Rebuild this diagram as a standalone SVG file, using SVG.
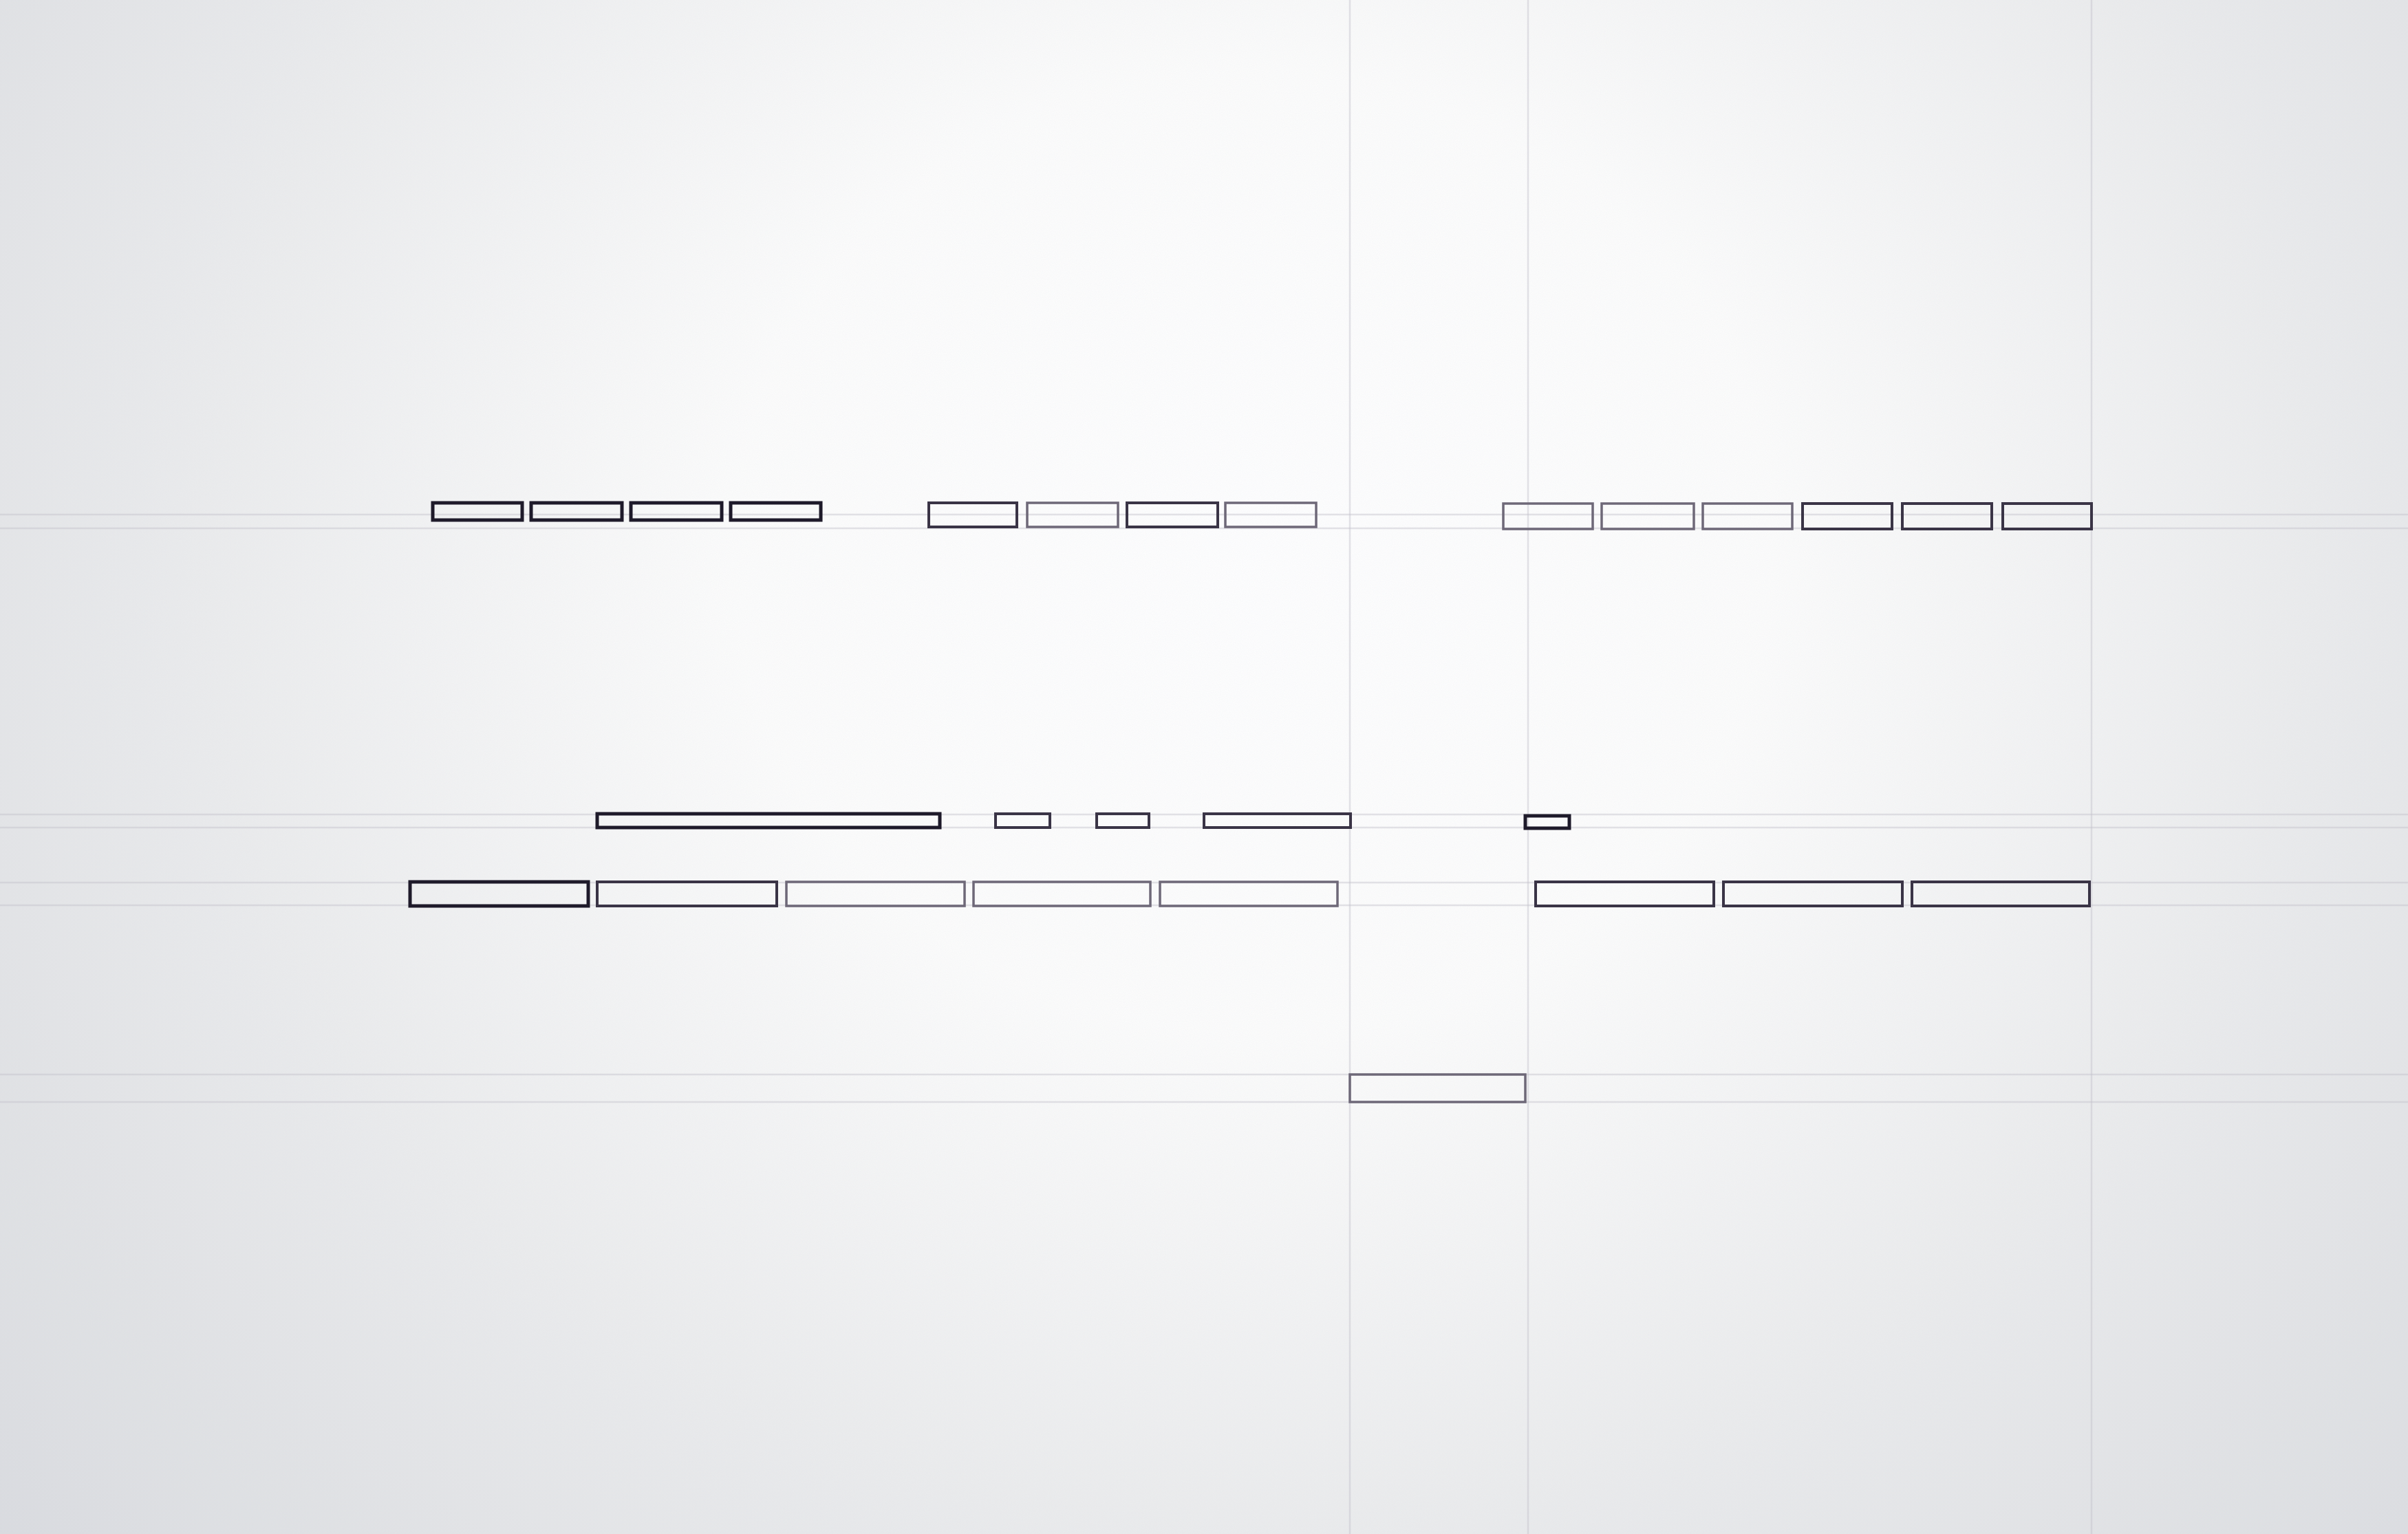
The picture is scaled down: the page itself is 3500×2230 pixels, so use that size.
<svg xmlns="http://www.w3.org/2000/svg" width="3500" height="2230" viewBox="0 0 3500 2230">
<style>
.bd{fill:none;stroke:#1e1a2a;stroke-width:5}
.bm{fill:none;stroke:#3a3446;stroke-width:4}
.bl{fill:none;stroke:#6e6878;stroke-width:3.5}
.g{stroke:#c4c2cc;stroke-width:2.5;opacity:0.45}
</style>
<defs>
<radialGradient id="paper" cx="0.52" cy="0.36" r="0.72" gradientTransform="translate(0.52 0.36) scale(1 1.45) translate(-0.52 -0.36)">
<stop offset="0" stop-color="#ffffff"/>
<stop offset="0.3" stop-color="#fdfdfc"/>
<stop offset="0.65" stop-color="#e8e9ea"/>
<stop offset="1" stop-color="#d6d8dc"/>
</radialGradient>
<filter id="noise" x="0" y="0" width="1" height="1">
<feTurbulence type="fractalNoise" baseFrequency="0.9" numOctaves="1" seed="3" result="t"/>
<feColorMatrix type="matrix" values="0 0 0 0 0.7  0 0 0 0 0.72  0 0 0 0 0.8  0 0 0 0.22 0" />
</filter>
</defs>
<rect x="0" y="0" width="3500" height="2230" fill="url(#paper)"/>
<rect x="0" y="0" width="3500" height="2230" filter="url(#noise)"/>
<g id="guides">
<line class="g" x1="0" y1="748" x2="3500" y2="748"/>
<line class="g" x1="0" y1="768" x2="3500" y2="768"/>
<line class="g" x1="0" y1="1184" x2="3500" y2="1184"/>
<line class="g" x1="0" y1="1203" x2="3500" y2="1203"/>
<line class="g" x1="0" y1="1283" x2="3500" y2="1283"/>
<line class="g" x1="0" y1="1316" x2="3500" y2="1316"/>
<line class="g" x1="0" y1="1562" x2="3500" y2="1562"/>
<line class="g" x1="0" y1="1602" x2="3500" y2="1602"/>
<line class="g" x1="1962" y1="0" x2="1962" y2="2230"/>
<line class="g" x1="2221" y1="0" x2="2221" y2="2230"/>
<line class="g" x1="3040" y1="0" x2="3040" y2="2230"/>
</g>
<g id="row1-a">
<g id="a1"><rect class="bd" x="629" y="731" width="130" height="25"/></g>
<g id="a2"><rect class="bd" x="772" y="731" width="132" height="25"/></g>
<g id="a3"><rect class="bd" x="917" y="731" width="132" height="25"/></g>
<g id="a4"><rect class="bd" x="1062" y="731" width="131" height="25"/></g>
</g>
<g id="row1-b">
<g id="b1"><rect class="bm" x="1350" y="731" width="128" height="35"/></g>
<g id="b2"><rect class="bl" x="1493" y="731" width="132" height="35"/></g>
<g id="b3"><rect class="bm" x="1638" y="731" width="132" height="35"/></g>
<g id="b4"><rect class="bl" x="1781" y="731" width="132" height="35"/></g>
</g>
<g id="row1-c">
<g id="c1"><rect class="bl" x="2185" y="732" width="130" height="37"/></g>
<g id="c2"><rect class="bl" x="2328" y="732" width="134" height="37"/></g>
<g id="c3"><rect class="bl" x="2475" y="732" width="130" height="37"/></g>
<g id="c4"><rect class="bm" x="2620" y="732" width="130" height="37"/></g>
<g id="c5"><rect class="bm" x="2765" y="732" width="130" height="37"/></g>
<g id="c6"><rect class="bm" x="2911" y="732" width="129" height="37"/></g>
</g>
<g id="row2">
<g id="d1"><rect class="bd" x="868" y="1183" width="498" height="20"/></g>
<g id="d2"><rect class="bm" x="1447" y="1183" width="79" height="20"/></g>
<g id="d3"><rect class="bm" x="1594" y="1183" width="76" height="20"/></g>
<g id="d4"><rect class="bm" x="1750" y="1183" width="213" height="20"/></g>
<g id="d5"><rect class="bd" x="2217" y="1186" width="64" height="18"/></g>
</g>
<g id="row3">
<g id="e1"><rect class="bd" x="596" y="1282" width="259" height="35"/></g>
<g id="e2"><rect class="bm" x="868" y="1282" width="261" height="35"/></g>
<g id="e3"><rect class="bl" x="1143" y="1282" width="259" height="35"/></g>
<g id="e4"><rect class="bl" x="1415" y="1282" width="257" height="35"/></g>
<g id="e5"><rect class="bl" x="1686" y="1282" width="258" height="35"/></g>
<g id="e6"><rect class="bm" x="2232" y="1282" width="259" height="35"/></g>
<g id="e7"><rect class="bm" x="2505" y="1282" width="260" height="35"/></g>
<g id="e8"><rect class="bm" x="2779" y="1282" width="258" height="35"/></g>
</g>
<g id="bottom">
<g id="f1"><rect class="bl" x="1962" y="1562" width="255" height="40"/></g>
</g>
</svg>
